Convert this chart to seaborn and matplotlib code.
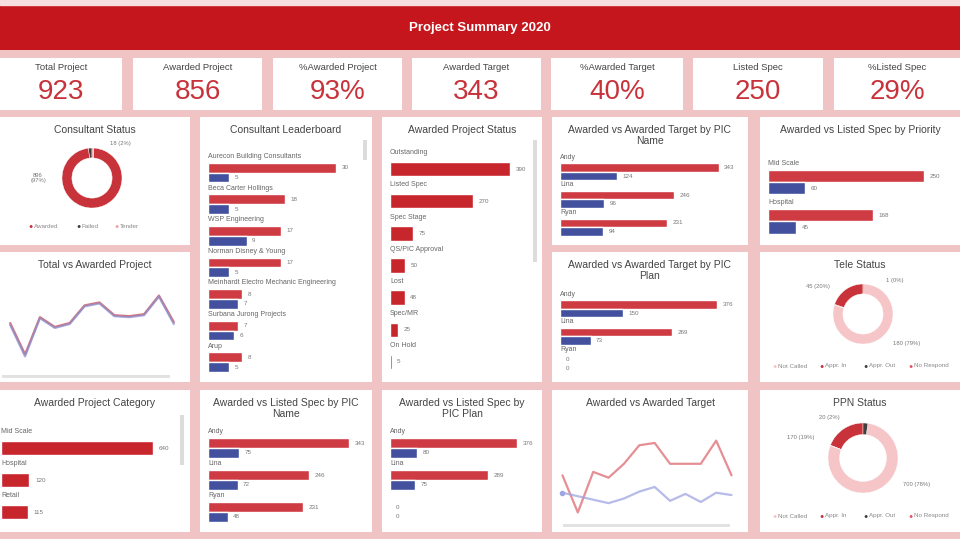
import numpy as np
import pandas as pd
import matplotlib
matplotlib.use("Agg")
import matplotlib.pyplot as plt
import seaborn as sns

sns.set_theme(style="white")
plt.rcParams['font.family'] = ['Liberation Sans Narrow', 'Liberation Sans', 'DejaVu Sans']

RED = "#c4161c"
BAR_RED = "#cf3b42"
BAR_BLUE = "#43509e"
PINK = "#f0c3c5"
TXT = "#444444"

# ---- data ----
kpi_labels = ["Total Project", "Awarded Project", "%Awarded Project", "Awarded Target",
              "%Awarded Target", "Listed Spec", "%Listed Spec"]
kpi_values = ["923", "856", "93%", "343", "40%", "250", "29%"]

cons_status_labels = ["Awarded", "Failed", "Tender"]
cons_status_values = [896, 18, 9]

leader_names = ["Aurecon Building Consultants", "Beca Carter Hollings", "WSP Engineering",
                "Norman Disney & Young", "Meinhardt Electro Mechanic Engineering",
                "Surbana Jurong Projects", "Arup"]
leader_awarded = [30, 18, 17, 17, 8, 7, 8]
leader_listed = [5, 5, 9, 5, 7, 6, 5]

status_labels = ["Outstanding", "Listed Spec", "Spec Stage", "QS/PIC Approval", "Lost", "Spec/MR", "On Hold"]
status_values = [390, 270, 75, 50, 48, 25, 5]

pic_names = ["Andy", "Lina", "Ryan"]
pic_awarded = [343, 246, 231]
pic_target = [124, 96, 94]

pic_plans = ["Andy", "Lina", "Ryan"]
plan_awarded = [376, 269, 0]
plan_target = [150, 73, 0]

prio_labels = ["Mid Scale", "Hospital"]
prio_awarded = [250, 168]
prio_listed = [60, 45]

cat_labels = ["Mid Scale", "Hospital", "Retail"]
cat_values = [640, 120, 115]

spec_awarded = [343, 246, 231]
spec_listed = [75, 72, 48]

plan_spec_labels = ["Andy", "Lina", ""]
plan_spec_awarded = [376, 289, 0]
plan_spec_listed = [80, 75, 0]

months = ["Jan", "Feb", "Mar", "Apr", "May", "Jun", "Jul", "Aug", "Sep", "Oct", "Nov", "Dec"]
total_proj = [72, 40, 78, 68, 72, 90, 93, 80, 79, 81, 100, 73]
awarded_proj = [70, 38, 77, 67, 71, 89, 92, 79, 78, 80, 99, 71]

awarded_line = [72, 40, 75, 70, 82, 98, 100, 82, 82, 82, 102, 72]
target_line = [57, np.nan, np.nan, 48, 52, 58, 62, 50, 56, 49, 57, 55]

tele_labels = ["Not Called", "Appr. In", "Appr. Out", "No Respond"]
tele_values = [180, 45, 1, 1]
ppn_labels = ["Not Called", "Appr. In", "Appr. Out", "No Respond"]
ppn_values = [700, 170, 20, 2]

# ---- figure ----
W, H = 960, 539
fig = plt.figure(figsize=(9.6, 5.39), dpi=100)
fig.patch.set_facecolor(PINK)


def box(x0, y0, x1, y1):
    return [x0 / W, 1 - y1 / H, (x1 - x0) / W, (y1 - y0) / H]


def panel(x0, y0, x1, y1, color="white"):
    ax = fig.add_axes(box(x0, y0, x1, y1))
    ax.set_facecolor(color)
    ax.set_xticks([])
    ax.set_yticks([])
    for s in ax.spines.values():
        s.set_visible(False)
    return ax


def title(x0, y0, x1, y1, text, size=7.5):
    fig.text((x0 + x1) / 2 / W, 1 - (y0 + 8) / H, text, ha="center", va="top",
             fontsize=size, color=TXT, linespacing=1.1)


# header
fig.add_artist(plt.Rectangle((0, 1 - 5 / H), 1, 5 / H, color="#f6dede", transform=fig.transFigure))
hx = panel(0, 5, 960, 50, RED)
hx.text(0.5, 0.5, "Project Summary 2020", ha="center", va="center", color="white",
        fontsize=9.5, fontweight="bold")

kpi_boxes = [(0, 58, 122, 110), (133, 58, 262, 110), (273, 58, 402, 110), (412, 58, 541, 110),
             (551, 58, 683, 110), (693, 58, 823, 110), (834, 58, 960, 110)]
for (x0, y0, x1, y1), lab, val in zip(kpi_boxes, kpi_labels, kpi_values):
    a = panel(x0, y0, x1, y1)
    a.text(0.5, 0.82, lab, ha="center", va="center", fontsize=6.8, color=TXT)
    a.text(0.5, 0.34, val, ha="center", va="center", fontsize=20, color="#c8323a")


def hbars(rect, labels, v1, v2, ttl, xmax, top_pad=34, left=8, scroll=None):
    x0, y0, x1, y1 = rect
    panel(x0, y0, x1, y1)
    title(x0, y0, x1, y1, ttl)
    if scroll:
        panel(*scroll, color="#dcdcdc")
    ax = fig.add_axes(box(x0 + left, y0 + top_pad, x1 - 10, y1 - 4))
    rows = []
    for l, a in zip(labels, v1):
        rows.append({"cat": l, "kind": "A", "val": a})
    if v2 is not None:
        for l, b in zip(labels, v2):
            rows.append({"cat": l, "kind": "B", "val": b})
    df = pd.DataFrame(rows)
    if v2 is not None:
        sns.barplot(data=df, y="cat", x="val", hue="kind", palette=[BAR_RED, BAR_BLUE],
                    orient="h", ax=ax, legend=False, width=0.62, dodge=True, saturation=1)
    else:
        sns.barplot(data=df, y="cat", x="val", color="#c8262d", orient="h", ax=ax,
                    width=0.45, saturation=1)
    ax.set_xlim(0, xmax)
    ax.set_ylim(len(labels) - 0.5, -0.75)
    ax.set_axis_off()
    for i, l in enumerate(labels):
        ax.text(0, i - 0.4, l, fontsize=5, color="#666666", va="bottom")
    for c in ax.containers:
        ax.bar_label(c, fontsize=4.5, color="#777777", padding=4)
    return ax


hbars((200, 117, 372, 382), leader_names, leader_awarded, leader_listed,
      "Consultant Leaderboard", 36, top_pad=32, scroll=(363, 140, 367, 160))
hbars((382, 117, 542, 382), status_labels, status_values, None,
      "Awarded Project Status", 460, top_pad=28, scroll=(533, 140, 537, 262))
hbars((552, 117, 748, 245), pic_names, pic_awarded, pic_target,
      "Awarded vs Awarded Target by PIC\nName", 385, top_pad=34)
hbars((760, 117, 960, 245), prio_labels, prio_awarded, prio_listed,
      "Awarded vs Listed Spec by Priority", 292, top_pad=36)
hbars((552, 252, 748, 382), pic_plans, plan_awarded, plan_target,
      "Awarded vs Awarded Target by PIC\nPlan", 426, top_pad=36)
hbars((0, 390, 190, 532), cat_labels, cat_values, None,
      "Awarded Project Category", 755, top_pad=34, left=1, scroll=(180, 415, 184, 465))
hbars((200, 390, 372, 532), pic_names, spec_awarded, spec_listed,
      "Awarded vs Listed Spec by PIC\nName", 375, top_pad=34)
hbars((382, 390, 542, 532), plan_spec_labels, plan_spec_awarded, plan_spec_listed,
      "Awarded vs Listed Spec by\nPIC Plan", 420, top_pad=34)


def lines(rect, s1, s2, ttl, c1, c2, scroll, lw=1.6):
    x0, y0, x1, y1 = rect
    panel(x0, y0, x1, y1)
    title(x0, y0, x1, y1, ttl)
    panel(*scroll, color="#e2e2e2")
    ax = fig.add_axes(box(x0 + 2, y0 + 24, x1 - 8, y1 - 8))
    df = pd.DataFrame({"m": np.arange(len(months)), "a": s1, "b": s2})
    sns.lineplot(data=df, x="m", y="a", color=c1, lw=lw, ax=ax)
    sns.lineplot(data=df, x="m", y="b", color=c2, lw=lw, ax=ax, alpha=0.75)
    ax.set_axis_off()
    return ax


a1 = lines((0, 252, 190, 382), total_proj, awarded_proj, "Total vs Awarded Project",
           "#d9737a", "#8a8fd0", (2, 375, 170, 378))
a1.set_ylim(20, 120)
a2 = lines((552, 390, 748, 532), awarded_line, target_line, "Awarded vs Awarded Target",
           "#e58f95", "#9fa5e0", (563, 524, 730, 527))
a2.plot([0], [target_line[0]], "o", color="#9fa5e0", ms=3)
a2.set_ylim(30, 125)


def donut(rect, labels, values, colors, ttl, center, r, order, lab_pos, leg_x, leg_y, wrap=False):
    x0, y0, x1, y1 = rect
    panel(x0, y0, x1, y1)
    title(x0, y0, x1, y1, ttl)
    cx, cy = center
    ax = fig.add_axes(box(cx - r, cy - r, cx + r, cy + r))
    ax.pie([values[i] for i in order], colors=[colors[i] for i in order], startangle=90,
           counterclock=True, wedgeprops=dict(width=0.33, edgecolor="white", linewidth=0.3))
    ax.set_aspect("equal")
    tot = sum(values)
    for v, pos in zip(values, lab_pos):
        if pos is None:
            continue
        th, rr = pos
        tx, ty = rr * np.cos(np.radians(th)), rr * np.sin(np.radians(th))
        sep = "\n" if (wrap and v / tot > 0.5) else " "
        ax.text(tx, ty, f"{v}{sep}({v / tot:.0%})", fontsize=4.2, color="#777777",
                ha="left" if tx > 0 else ("center" if sep == "\n" else "right"),
                va="center", clip_on=False, multialignment="center")
    ax.set_xlim(-1, 1)
    ax.set_ylim(-1, 1)
    for lx, l, c in zip(leg_x, labels, colors):
        fig.text(lx / W, 1 - leg_y / H, "\u25CF", color=c, fontsize=5, va="center")
        fig.text((lx + 6) / W, 1 - leg_y / H, l, color="#888888", fontsize=4.5, va="center")


donut((0, 117, 190, 245), cons_status_labels, cons_status_values,
      ["#c8323a", "#404040", "#f0a0a5"], "Consultant Status", (92, 178), 30,
      [1, 0, 2], [(180, 1.8), (62, 1.3), None], [28, 76, 114], 227, wrap=True)
donut((760, 252, 960, 382), tele_labels, tele_values,
      ["#f5c5c8", "#c8323a", "#404040", "#e05a62"], "Tele Status", (863, 314), 30,
      [1, 3, 0, 2], [(-45, 1.4), (140, 1.45), (56, 1.35), None], [772, 819, 863, 908], 366)
donut((760, 390, 960, 532), ppn_labels, ppn_values,
      ["#f5c5c8", "#c8323a", "#404040", "#e05a62"], "PPN Status", (863, 458), 35,
      [1, 3, 0, 2], [(-34, 1.37), (157, 1.5), (120, 1.32), None], [772, 819, 863, 908], 516)

fig.savefig("out.png", dpi=100, facecolor=fig.get_facecolor())
